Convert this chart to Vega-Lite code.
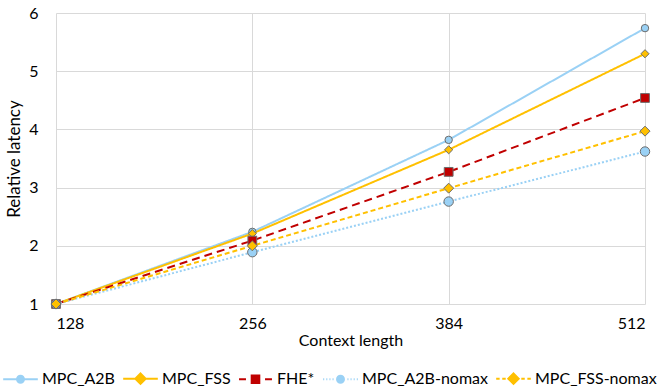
{
  "$schema": "https://vega.github.io/schema/vega-lite/v6.json",
  "width": 589,
  "height": 291,
  "autosize": {"type": "none"},
  "padding": {"left": 56, "top": 13, "right": 23, "bottom": 87},
  "background": "white",
  "config": {
    "font": "Lato",
    "view": {"stroke": null},
    "axis": {"gridColor": "#d9d9d9", "gridWidth": 1, "domain": false, "ticks": false, "labelColor": "#000", "titleColor": "#000", "labelFont": "Lato", "titleFont": "Lato", "titleFontWeight": "normal"}
  },
  "data": {"values": [
    {"ctx": 128, "lat": 1, "series": "MPC_A2B"},
    {"ctx": 256, "lat": 2.24, "series": "MPC_A2B"},
    {"ctx": 384, "lat": 3.82, "series": "MPC_A2B"},
    {"ctx": 512, "lat": 5.74, "series": "MPC_A2B"},
    {"ctx": 128, "lat": 1, "series": "MPC_FSS"},
    {"ctx": 256, "lat": 2.21, "series": "MPC_FSS"},
    {"ctx": 384, "lat": 3.65, "series": "MPC_FSS"},
    {"ctx": 512, "lat": 5.30, "series": "MPC_FSS"},
    {"ctx": 128, "lat": 1, "series": "FHE*"},
    {"ctx": 256, "lat": 2.09, "series": "FHE*"},
    {"ctx": 384, "lat": 3.27, "series": "FHE*"},
    {"ctx": 512, "lat": 4.54, "series": "FHE*"},
    {"ctx": 128, "lat": 1, "series": "MPC_A2B-nomax"},
    {"ctx": 256, "lat": 1.89, "series": "MPC_A2B-nomax"},
    {"ctx": 384, "lat": 2.76, "series": "MPC_A2B-nomax"},
    {"ctx": 512, "lat": 3.62, "series": "MPC_A2B-nomax"},
    {"ctx": 128, "lat": 1, "series": "MPC_FSS-nomax"},
    {"ctx": 256, "lat": 2.0, "series": "MPC_FSS-nomax"},
    {"ctx": 384, "lat": 2.99, "series": "MPC_FSS-nomax"},
    {"ctx": 512, "lat": 3.97, "series": "MPC_FSS-nomax"}
  ]},
  "encoding": {
    "x": {"field": "ctx", "type": "quantitative", "scale": {"domain": [128, 512], "nice": false, "zero": false},
      "axis": {"values": [128, 256, 384, 512], "title": "Context length", "labelFontSize": 16, "titleFontSize": 16, "labelPadding": 11, "titlePadding": 1}},
    "y": {"field": "lat", "type": "quantitative", "scale": {"domain": [1, 6], "nice": false, "zero": false},
      "axis": {"values": [1, 2, 3, 4, 5, 6], "title": "Relative latency", "labelFontSize": 16, "titleFontSize": 17, "labelPadding": 18, "titlePadding": 5}}
  },
  "resolve": {"scale": {"shape": "independent", "fill": "independent", "stroke": "independent", "size": "independent"}},
  "layer": [
    {
      "mark": {"type": "line", "strokeWidth": 2},
      "encoding": {
        "color": {"field": "series", "type": "nominal",
          "scale": {"domain": ["MPC_A2B", "MPC_FSS", "FHE*", "MPC_A2B-nomax", "MPC_FSS-nomax"], "range": ["#9ad1f5", "#ffc000", "#c00000", "#9ad1f5", "#ffc000"]}, "legend": null},
        "strokeDash": {"field": "series", "type": "nominal",
          "scale": {"domain": ["MPC_A2B", "MPC_FSS", "FHE*", "MPC_A2B-nomax", "MPC_FSS-nomax"], "range": [[1, 0], [1, 0], [8, 5], [2, 2], [5, 3]]}, "legend": null}
      }
    },
    {
      "mark": {"type": "point", "filled": true, "stroke": "#6d6d6d", "strokeWidth": 1, "opacity": 1},
      "encoding": {
        "fill": {"field": "series", "type": "nominal",
          "scale": {"domain": ["MPC_A2B", "MPC_FSS", "FHE*", "MPC_A2B-nomax", "MPC_FSS-nomax"], "range": ["#9ad1f5", "#ffc000", "#c00000", "#9ad1f5", "#ffc000"]}, "legend": null},
        "shape": {"field": "series", "type": "nominal",
          "scale": {"domain": ["MPC_A2B", "MPC_FSS", "FHE*", "MPC_A2B-nomax", "MPC_FSS-nomax"], "range": ["circle", "diamond", "square", "circle", "diamond"]}, "legend": null},
        "size": {"field": "series", "type": "nominal",
          "scale": {"domain": ["MPC_A2B", "MPC_FSS", "FHE*", "MPC_A2B-nomax", "MPC_FSS-nomax"], "range": [55, 100, 80, 55, 100]}, "legend": null}
      }
    },
    {
      "transform": [{"filter": "datum.ctx < 0"}],
      "mark": {"type": "point", "filled": true, "strokeWidth": 2, "size": 1200},
      "encoding": {
        "fill": {"field": "series", "type": "nominal",
          "scale": {"domain": ["MPC_A2B", "MPC_FSS", "FHE*", "MPC_A2B-nomax", "MPC_FSS-nomax"], "range": ["#9ad1f5", "#ffc000", "#c00000", "#9ad1f5", "#ffc000"]},
          "legend": {"title": null, "orient": "none", "legendX": -54, "legendY": 347, "direction": "horizontal", "columns": 5, "labelFontSize": 16, "labelFont": "Lato", "labelColor": "#000", "symbolStrokeWidth": 2, "symbolSize": 1200, "labelOffset": 3, "columnPadding": 4, "symbolOpacity": 1}},
        "stroke": {"field": "series", "type": "nominal",
          "scale": {"domain": ["MPC_A2B", "MPC_FSS", "FHE*", "MPC_A2B-nomax", "MPC_FSS-nomax"], "range": ["#9ad1f5", "#ffc000", "#c00000", "#9ad1f5", "#ffc000"]},
          "legend": {"title": null, "orient": "none", "legendX": -54, "legendY": 347, "direction": "horizontal", "columns": 5, "labelFontSize": 16, "labelFont": "Lato", "labelColor": "#000", "symbolStrokeWidth": 2, "symbolSize": 1200, "labelOffset": 3, "columnPadding": 4, "symbolOpacity": 1}},
        "shape": {"field": "series", "type": "nominal",
          "scale": {"domain": ["MPC_A2B", "MPC_FSS", "FHE*", "MPC_A2B-nomax", "MPC_FSS-nomax"], "range": [
            "M-1,0L-0.2,0M0.2,0L1,0M0.2,0A0.2,0.2 0 1,1 -0.2,0A0.2,0.2 0 1,1 0.2,0Z",
            "M-1,0L-0.3,0M0.3,0L1,0M0,-0.3L0.3,0L0,0.3L-0.3,0Z",
            "M-0.95,0L-0.55,0M0.55,0L0.95,0M-0.22,-0.22L0.22,-0.22L0.22,0.22L-0.22,0.22Z",
            "M-1,0L-0.94,0M-0.82,0L-0.76,0M-0.64,0L-0.58,0M-0.46,0L-0.4,0M0.4,0L0.46,0M0.58,0L0.64,0M0.76,0L0.82,0M0.94,0L1,0M0.2,0A0.2,0.2 0 1,1 -0.2,0A0.2,0.2 0 1,1 0.2,0Z",
            "M-1,0L-0.8,0M-0.65,0L-0.45,0M0.45,0L0.65,0M0.8,0L1,0M0,-0.3L0.3,0L0,0.3L-0.3,0Z"
          ]},
          "legend": {"title": null, "orient": "none", "legendX": -54, "legendY": 347, "direction": "horizontal", "columns": 5, "labelFontSize": 16, "labelFont": "Lato", "labelColor": "#000", "symbolStrokeWidth": 2, "symbolSize": 1200, "labelOffset": 3, "columnPadding": 4, "symbolOpacity": 1}}
      }
    }
  ]
}
